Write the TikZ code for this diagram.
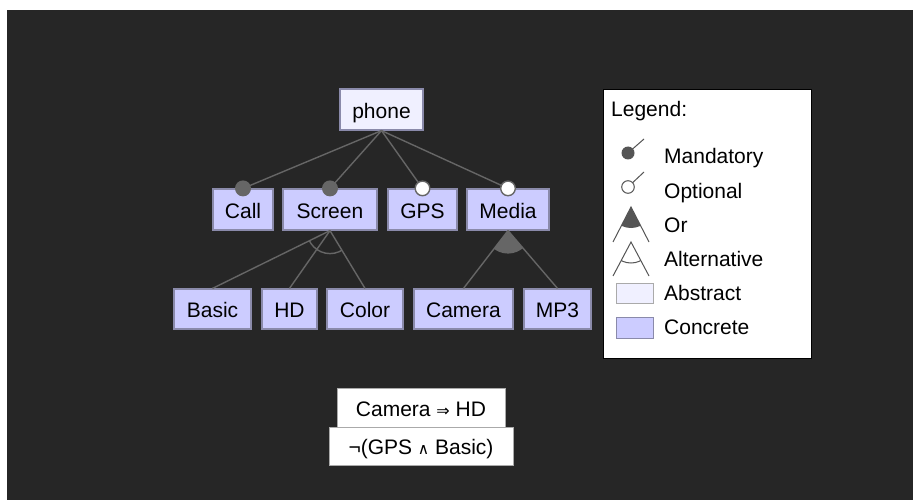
\documentclass[tikz,border=0pt]{standalone}
\usepackage{fontspec}
\setmainfont{Liberation Sans}
\newfontfamily\symfont{DejaVu Sans}

\definecolor{canvas}{HTML}{262626}
\definecolor{concrete}{HTML}{CCCCFF}
\definecolor{abstractfill}{HTML}{F0F0FF}
\definecolor{featborder}{HTML}{8A8AAA}
\definecolor{edgegrey}{HTML}{666666}
\definecolor{legendgrey}{HTML}{555555}
\definecolor{swatchborder}{HTML}{AAAAAA}

\begin{document}
\begin{tikzpicture}[x=1pt,y=1pt,
  font=\fontsize{21}{24}\selectfont,
  feature/.style={draw=featborder, line width=1.2pt, fill=concrete,
    minimum height=41pt, inner sep=0pt, text height=17.5pt, text depth=0pt},
  abstractfeat/.style={feature, fill=abstractfill},
  edgeline/.style={draw=edgegrey, line width=1.4pt},
  mandatory/.style={fill=edgegrey},
  optional/.style={draw=edgegrey, fill=white, line width=1.4pt},
  constraint/.style={draw=swatchborder, line width=1pt, fill=white,
    inner sep=0pt, text height=17.5pt, text depth=0pt},
  legendtext/.style={anchor=base west, inner sep=0pt},
  legendline/.style={draw=legendgrey, line width=1pt}
]
% page and dark canvas
\fill[white] (0,0) rectangle (913,-500);
\useasboundingbox (0,0) rectangle (913,-500);
\fill[canvas] (7,-10) rectangle (913,-500);

% feature tree
\node[abstractfeat, minimum width=83pt] (phone) at (381.5,-109.5) {phone};
\node[feature, minimum width=60pt] (call)   at (243,-209.5)   {Call};
\node[feature, minimum width=94pt] (screen) at (330,-209.5)   {Screen};
\node[feature, minimum width=69pt] (gps)    at (422.5,-209.5) {GPS};
\node[feature, minimum width=82pt] (media)  at (508,-209.5)   {Media};
\node[feature, minimum width=77pt, minimum height=40pt] (basic)  at (212.5,-309) {Basic};
\node[feature, minimum width=55pt, minimum height=40pt] (hd)     at (289.5,-309) {HD};
\node[feature, minimum width=76pt, minimum height=40pt] (color)  at (365,-309)   {Color};
\node[feature, minimum width=99pt, minimum height=40pt] (camera) at (463.5,-309) {Camera};
\node[feature, minimum width=67pt, minimum height=40pt] (mp3)    at (557.5,-309) {MP3};

% edges from the root
\draw[edgeline] (phone.south) -- (call.north);
\draw[edgeline] (phone.south) -- (screen.north);
\draw[edgeline] (phone.south) -- (gps.north);
\draw[edgeline] (phone.south) -- (media.north);

% edges of the groups
\draw[edgeline] (screen.south) -- (basic.north);
\draw[edgeline] (screen.south) -- (hd.north);
\draw[edgeline] (screen.south) -- (color.north);
\draw[edgeline] (media.south) -- (camera.north);
\draw[edgeline] (media.south) -- (mp3.north);

% mandatory and optional markers
\fill[mandatory] (call.north) circle (8);
\fill[mandatory] (screen.north) circle (8);
\filldraw[optional] (gps.north) circle (7.3);
\filldraw[optional] (media.north) circle (7.3);

% alternative group arc
\begin{scope}
  \clip (screen.south) -- (basic.north) -- (color.north) -- cycle;
  \draw[edgegrey, line width=1.4pt] (screen.south) circle (23);
\end{scope}
% or group sector
\begin{scope}
  \clip (media.south) -- (camera.north) -- (mp3.north) -- cycle;
  \fill[edgegrey] (media.south) circle (23);
\end{scope}

% legend
\node[draw=black, fill=white, line width=1pt, minimum width=208pt,
  minimum height=268pt, inner sep=0pt] (legend) at (707,-224) {};
\node[legendtext] (legendtitle) at (611,-116.7) {Legend:};
\node[legendtext] (lmand) at (664,-164) {Mandatory};
\node[legendtext] (lopt)  at (664,-198) {Optional};
\node[legendtext] (lor)   at (664,-232) {Or};
\node[legendtext] (lalt)  at (664,-266) {Alternative};
\node[legendtext] (labs)  at (664,-300) {Abstract};
\node[legendtext] (lcon)  at (664,-334) {Concrete};

% legend symbols
\draw[legendline] (628,-153) -- (644,-139);
\fill[legendgrey] (628,-153) circle (6.5);
\draw[legendline] (628,-187) -- (644,-172);
\filldraw[legendline, fill=white] (628,-187) circle (6.3);

\draw[legendline] (613,-242) -- (631,-207) -- (649,-242);
\begin{scope}
  \clip (631,-207) -- (613,-242) -- (649,-242) -- cycle;
  \fill[legendgrey] (631,-207) circle (21);
\end{scope}

\draw[legendline] (613,-276) -- (631,-242) -- (649,-276);
\begin{scope}
  \clip (631,-242) -- (613,-276) -- (649,-276) -- cycle;
  \draw[legendline] (631,-242) circle (21);
\end{scope}

\node[draw=swatchborder, line width=1pt, fill=abstractfill, minimum width=37pt,
  minimum height=20pt, inner sep=0pt] (swabs) at (634.5,-293) {};
\node[draw=featborder, line width=1pt, fill=concrete, minimum width=37pt,
  minimum height=21pt, inner sep=0pt] (swcon) at (634.5,-327.5) {};

% cross-tree constraints
\node[constraint, minimum width=184pt, minimum height=38pt] (c2) at (421,-446)
  {¬(GPS {\symfont\fontsize{15.5}{15.5}\selectfont ∧} Basic)};
\node[constraint, minimum width=168pt, minimum height=39pt] (c1) at (421,-407.5)
  {Camera {\symfont\fontsize{16}{16}\selectfont ⇒} HD};
\end{tikzpicture}
\end{document}
